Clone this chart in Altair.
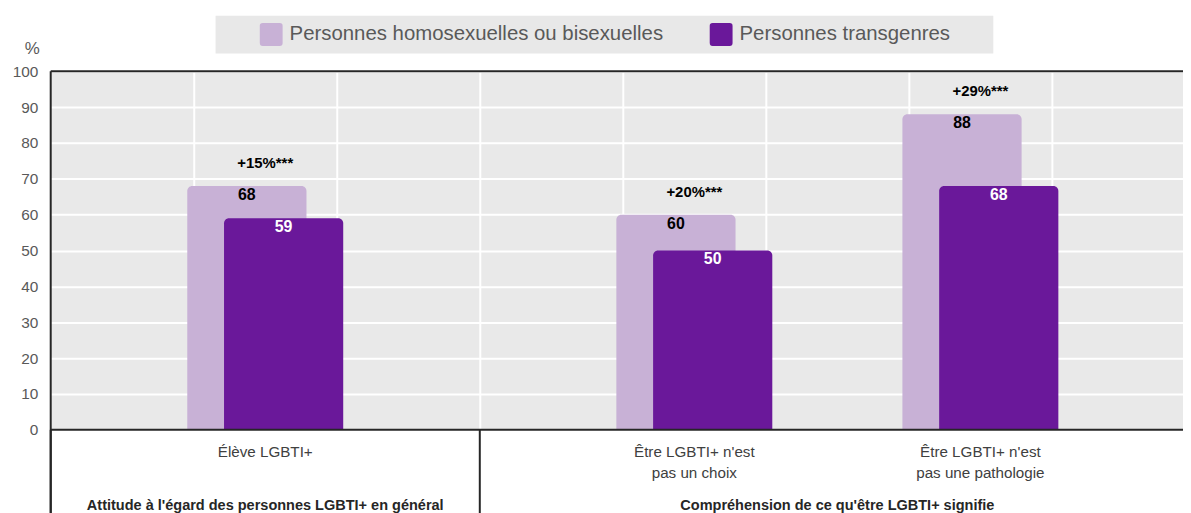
import altair as alt
import pandas as pd

# ---------------- data ----------------
SERIES = ["Personnes homosexuelles ou bisexuelles", "Personnes transgenres"]
COLORS = ["#C8B1D6", "#6A189A"]
SLOTS = ["", "Élève LGBTI+", "", "", "Être LGBTI+ n'est\npas un choix", "",
         "Être LGBTI+ n'est\npas une pathologie", ""]
SLOT_GROUP = [0, 0, 0, 1, 1, 1, 1, 1]
GROUPS = ["Attitude à l'égard des personnes LGBTI+ en général",
          "Compréhension de ce qu'être LGBTI+ signifie"]
CATEGORIES = ["Élève LGBTI+", "Être LGBTI+ n'est\npas un choix",
              "Être LGBTI+ n'est\npas une pathologie"]
HOMO_BI = [68, 60, 88]
TRANS = [59, 50, 68]
GAPS = ["+15%***", "+20%***", "+29%***"]
Y_TICKS = list(range(0, 101, 10))

# ---------------- layout constants ----------------
W, H = 1140, 361
SLOT_PX = 144.0
XMAX = W / SLOT_PX
HALF = 60 / SLOT_PX
OFF = 18.5 / SLOT_PX
FONT = "Liberation Sans"
DARK = "#262626"

rows, ann, labels = [], [], []
for cat, a, b, g in zip(CATEGORIES, HOMO_BI, TRANS, GAPS):
    c = SLOTS.index(cat) + 0.5
    for s, v, sign in ((SERIES[0], a, -1), (SERIES[1], b, 1)):
        xc = c + sign * OFF
        rows.append(dict(cat=cat, series=s, value=v, xc=xc, x0=xc - HALF, x1=xc + HALF))
    ann.append(dict(xc=c, value=a, txt=g))
    labels.append(dict(xc=c, txt=cat))
bars = pd.DataFrame(rows)
ann = pd.DataFrame(ann)
labels = pd.DataFrame(labels)

grp = []
for gi, name in enumerate(GROUPS):
    idx = [i for i, s in enumerate(SLOT_GROUP) if s == gi]
    grp.append(dict(xc=(min(idx) + max(idx) + 1) / 2, txt=name))
grp = pd.DataFrame(grp)

seps = pd.DataFrame({"xb": [0] + [i for i in range(1, len(SLOT_GROUP)) if SLOT_GROUP[i] != SLOT_GROUP[i - 1]]})
hborders = pd.DataFrame({"value": [0, 100]})

xs = alt.Scale(domain=[0, XMAX], nice=False, zero=False)
ys = alt.Scale(domain=[0, 100], nice=False)

AX = alt.Axis(values=list(range(1, len(SLOTS))), grid=True, gridColor="white",
              gridWidth=2, labels=False, ticks=False, domain=False, title=None)
AY = alt.Axis(values=Y_TICKS, grid=True, gridColor="white", gridWidth=2,
              domain=False, ticks=False, labelPadding=13, labelFontSize=15.5,
              labelColor="#595959", labelFont=FONT, title="%", titleAngle=0,
              titleX=-19, titleY=-23, titleAlign="center", titleBaseline="middle",
              titleFontSize=17, titleFontWeight="normal", titleColor="#595959",
              titleFont=FONT)

sym = "M-0.75,-1H0.75Q1,-1,1,-0.75V0.75Q1,1,0.75,1H-0.75Q-1,1,-1,0.75V-0.75Q-1,-1,-0.75,-1Z"

bar_layer = alt.Chart(bars).mark_bar(cornerRadiusTopLeft=5, cornerRadiusTopRight=5).encode(
    x=alt.X("x0:Q", scale=xs, axis=AX),
    x2="x1:Q",
    y=alt.Y("value:Q", scale=ys, axis=AY),
    y2=alt.datum(0),
    color=alt.Color("series:N", scale=alt.Scale(domain=SERIES, range=COLORS),
                    legend=alt.Legend(orient="none", legendX=166, legendY=-56,
                                      direction="horizontal", title=" ",
                                      titleOrient="right", titlePadding=36,
                                      titleFontSize=2, titleColor="#E8E8E8",
                                      fillColor="#E8E8E8", padding=7.5,
                                      symbolType=sym, symbolSize=529, symbolStrokeWidth=0,
                                      symbolOpacity=1, labelFontSize=20.5, labelColor="#595959",
                                      labelFont=FONT, columnPadding=9, labelOffset=7,
                                      symbolOffset=37, labelLimit=800)),
)

border_h = alt.Chart(hborders).mark_rule(color=DARK, strokeWidth=2).encode(
    y=alt.Y("value:Q", scale=ys, axis=AY))
border_left = alt.Chart(pd.DataFrame({"xb": [0]})).mark_rule(color=DARK, strokeWidth=2).encode(
    x=alt.X("xb:Q", scale=xs, axis=AX), y=alt.value(0), y2=alt.value(H + 100))
sep_layer = alt.Chart(seps).mark_rule(color=DARK, strokeWidth=2).encode(
    x=alt.X("xb:Q", scale=xs, axis=AX), y=alt.value(H), y2=alt.value(H + 100))

val_layer = alt.Chart(bars).mark_text(font=FONT, fontSize=16, fontWeight="bold", dy=9,
                                      baseline="middle").encode(
    x=alt.X("xc:Q", scale=xs, axis=AX),
    y=alt.Y("value:Q", scale=ys, axis=AY),
    text="value:Q",
    color=alt.condition(f"datum.series == '{SERIES[1]}'", alt.value("white"), alt.value("black")),
)

ann_layer = alt.Chart(ann).mark_text(font=FONT, fontSize=15, fontWeight="bold", dy=-23,
                                     baseline="middle", color="black").encode(
    x=alt.X("xc:Q", scale=xs, axis=AX),
    y=alt.Y("value:Q", scale=ys, axis=AY),
    text="txt:N",
)

xlab_layer = alt.Chart(labels).mark_text(font=FONT, fontSize=15.3, color="#404040", lineBreak="\n",
                                         lineHeight=21, baseline="middle").encode(
    x=alt.X("xc:Q", scale=xs, axis=AX),
    y=alt.value(H + 22),
    text="txt:N",
)

grp_layer = alt.Chart(grp).mark_text(font=FONT, fontSize=14.6, fontWeight="bold", color=DARK,
                                     baseline="middle").encode(
    x=alt.X("xc:Q", scale=xs, axis=AX),
    y=alt.value(H + 77),
    text="txt:N",
)

chart = alt.layer(bar_layer, val_layer, ann_layer, border_h, border_left, sep_layer,
                  xlab_layer, grp_layer).properties(
    width=W, height=H,
    autosize=alt.AutoSizeParams(type="none"),
    padding={"left": 43, "top": 62, "right": 0, "bottom": 82},
).configure(font=FONT).configure_view(fill="#E9E9E9", stroke=None)

chart.save("out.html", embed_options={"renderer": "svg", "actions": False})
